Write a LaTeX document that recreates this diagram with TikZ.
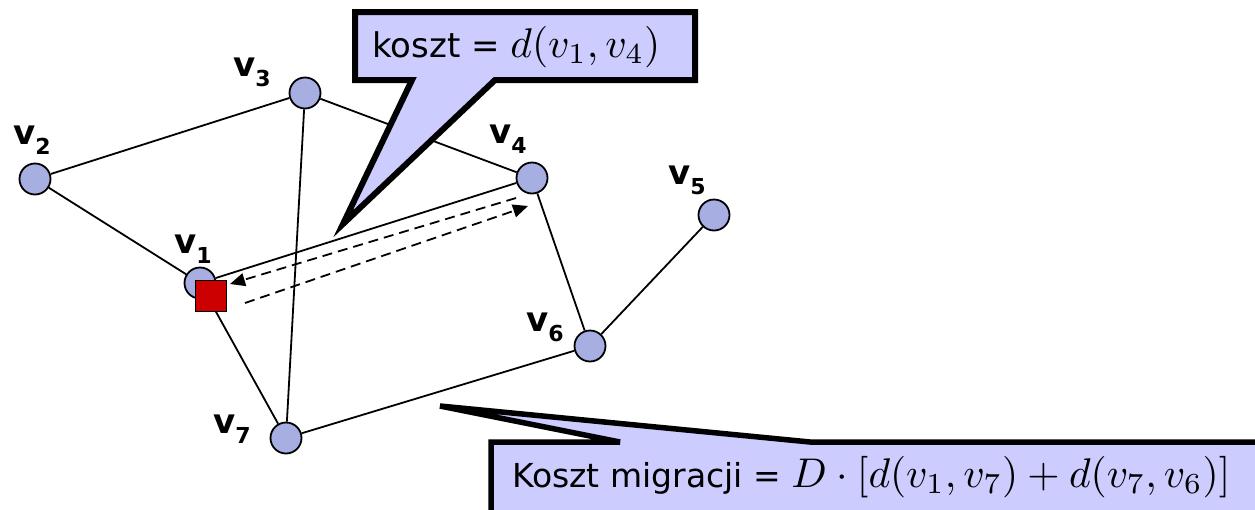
\documentclass[tikz,border=0pt]{standalone}
\usepackage[no-math]{fontspec}
\setmainfont{DejaVu Sans}
\usetikzlibrary{arrows.meta}
\definecolor{callfill}{RGB}{204,204,255}
\definecolor{vfill}{RGB}{166,174,226}
\definecolor{sqred}{RGB}{204,0,0}
\newcommand{\vlab}[1]{\textbf{v}\raisebox{-10pt}{\fontsize{22}{22}\selectfont\textbf{#1}}}
\newcommand{\bigmath}[1]{\scalebox{4.15}{\normalsize$#1$}}
\tikzset{
  vert/.style={circle, draw, line width=1.8pt, fill=vfill, minimum size=31pt, inner sep=0pt},
  sq/.style={rectangle, draw, line width=1.6pt, fill=sqred, minimum size=31pt, inner sep=0pt},
  vlabel/.style={anchor=base west, inner sep=0pt, font=\fontsize{34}{34}\selectfont},
  edge/.style={line width=1.8pt},
  dasharrow/.style={line width=1.8pt, dash pattern=on 10pt off 6pt, -{Triangle[length=15pt,width=13pt]}},
  callout/.style={line width=6pt, fill=callfill, draw=black, line join=miter},
  calltext/.style={anchor=base west, inner sep=0pt, font=\fontsize{34}{34}\selectfont}
}
\begin{document}
\begin{tikzpicture}[x=1pt,y=-1pt]
\useasboundingbox (0,0) rectangle (1255,509);
\clip (0,0) rectangle (1255,509);
% vertices
\node[vert] (v1) at (200,283) {};
\node[vert] (v2) at (35,179) {};
\node[vert] (v3) at (305,93) {};
\node[vert] (v4) at (532,178) {};
\node[vert] (v5) at (714,215) {};
\node[vert] (v6) at (590,346) {};
\node[vert] (v7) at (286,438) {};
% edges
\draw[edge] (v2) -- (v3);
\draw[edge] (v2) -- (v1);
\draw[edge] (v3) -- (v4);
\draw[edge] (v3) -- (v7);
\draw[edge] (v1) -- (v7);
\draw[edge] (v7) -- (v6);
\draw[edge] (v4) -- (v6);
\draw[edge] (v6) -- (v5);
\draw[edge] (v1) -- (v4);
% labels
\node[vlabel] (l1) at (174,253) {\vlab{1}};
\node[vlabel] (l2) at (13,144) {\vlab{2}};
\node[vlabel] (l3) at (233,76) {\vlab{3}};
\node[vlabel] (l4) at (489,143) {\vlab{4}};
\node[vlabel] (l5) at (668,184) {\vlab{5}};
\node[vlabel] (l6) at (526,331) {\vlab{6}};
\node[vlabel] (l7) at (213,433) {\vlab{7}};
% task square
\node[sq] (s) at (211,296) {};
% migration arrows
\coordinate (a1) at (516,198);
\coordinate (a2) at (230,284);
\coordinate (b1) at (245,303);
\coordinate (b2) at (528,206);
\draw[dasharrow] (a1) -- (a2);
\draw[dasharrow] (b1) -- (b2);
% callout 1
\draw[callout] (355,12) -- (695,12) -- (695,80) -- (495,80) -- (343,224) -- (412,80) -- (355,80) -- cycle;
\node[calltext] (t1) at (372,57) {koszt = \bigmath{d(v_1,v_4)}};
% callout 2
\draw[callout, line width=5.5pt] (491,442) -- (620,442) -- (440,406) -- (810,442) -- (1300,442) -- (1300,530) -- (491,530) -- cycle;
\node[calltext, font=\fontsize{33}{33}\selectfont] (t2) at (512,487) {Koszt migracji = \bigmath{D\cdot[d(v_1,v_7)+d(v_7,v_6)]}};
\end{tikzpicture}
\end{document}
